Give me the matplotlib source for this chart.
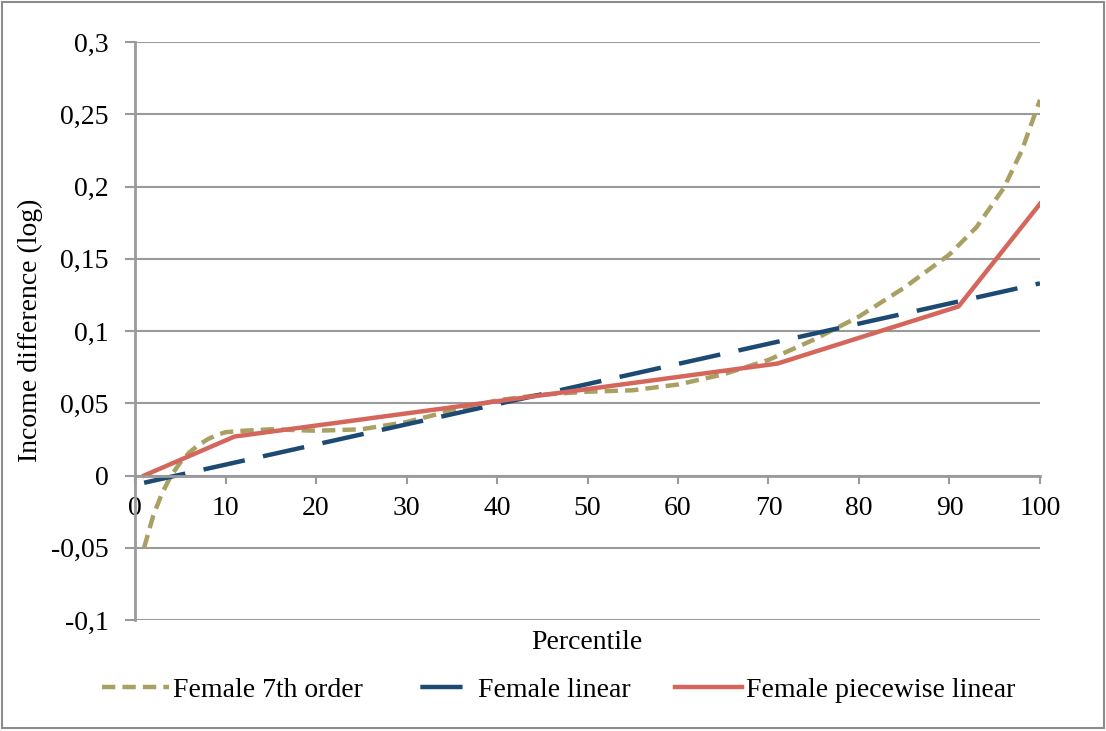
import matplotlib.pyplot as plt
from matplotlib.patches import Rectangle
from matplotlib.ticker import FuncFormatter, MultipleLocator

plt.rcParams['font.family'] = ['Liberation Serif', 'DejaVu Serif']

# percentiles and fitted income differences
pct_poly = [1, 2, 3, 4, 5, 6, 7, 8, 9, 10, 12, 15, 20, 25, 30, 35, 40, 45,
            50, 55, 60, 65, 70, 75, 80, 85, 90, 93, 96, 98, 100]
poly7 = [-0.050, -0.028, -0.012, 0.000, 0.009, 0.016, 0.021, 0.025, 0.028,
         0.030, 0.031, 0.032, 0.031, 0.032, 0.037, 0.045, 0.052, 0.056,
         0.058, 0.059, 0.063, 0.070, 0.080, 0.094, 0.110, 0.130, 0.153,
         0.172, 0.199, 0.225, 0.260]

pct_lin = [1, 100]
linear = [-0.005, 0.133]

pct_pw = [1, 11, 71, 91, 100]
piecewise = [0.000, 0.027, 0.0775, 0.117, 0.188]

olive = '#A9A064'
navy = '#1D4A72'
red = '#D4665C'
gridc = '#9a9a9a'

fig = plt.figure(figsize=(11.06, 7.31), dpi=100)
ax = fig.add_axes([0.1221, 0.1518, 0.8182, 0.7907])

ax.plot(pct_poly, poly7, color=olive, lw=3.2, dashes=(3, 1.6), label='Female 7th order')
ax.plot(pct_lin, linear, color=navy, lw=3.2, dashes=(9.5, 4.2), label='Female linear')
ax.plot(pct_pw, piecewise, color=red, lw=3.2, label='Female piecewise linear')

ax.set_xlim(0, 100)
ax.set_ylim(-0.1, 0.3)
ax.xaxis.set_major_locator(MultipleLocator(10))
ax.yaxis.set_major_locator(MultipleLocator(0.05))
ax.yaxis.set_major_formatter(FuncFormatter(lambda v, p: f"{round(v, 2):g}".replace('.', ',')))
ax.xaxis.set_major_formatter(FuncFormatter(lambda v, p: f"{v:g}"))

ax.grid(axis='y', color=gridc, lw=1.5)
ax.set_axisbelow(True)
for s in ['top', 'right']:
    ax.spines[s].set_visible(False)
ax.spines['bottom'].set_position(('data', 0))
for s in ['left', 'bottom']:
    ax.spines[s].set_color(gridc)
    ax.spines[s].set_linewidth(2)
ax.tick_params(axis='y', length=7, width=1.5, color=gridc, pad=12, labelsize=20)
ax.tick_params(axis='x', length=6, width=1.5, color=gridc, pad=9, labelsize=20)

fig.text(0.0275, 0.5486, 'Income difference (log)', rotation=90, ha='center', va='center', fontsize=20)
fig.text(0.531, 0.1204, 'Percentile', ha='center', va='center', fontsize=20)

leg = fig.legend(loc='center', bbox_to_anchor=(0.505, 0.0561), ncol=3, frameon=False,
                 fontsize=20, handlelength=2.4, handletextpad=0.15, columnspacing=1.6)
# single long dash in the legend for the linear fit
leg.get_lines()[1].set_linestyle((12.5, (9.5, 6)))

fig.add_artist(Rectangle((0.002, 0.004), 0.996, 0.993, transform=fig.transFigure,
                         fill=False, edgecolor='#8c8c8c', lw=1.5))

fig.savefig('out.png', dpi=100)
